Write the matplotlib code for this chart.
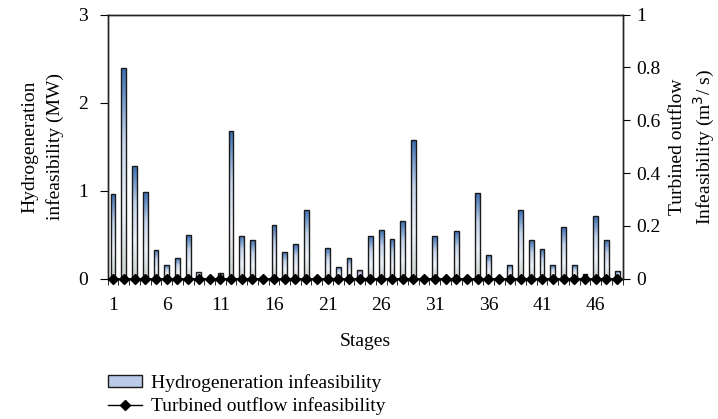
import numpy as np
import matplotlib
matplotlib.use("Agg")
import matplotlib.pyplot as plt
from matplotlib.colors import LinearSegmentedColormap
from matplotlib.patches import Rectangle
from matplotlib.lines import Line2D

stages = list(range(1, 49))
hydro = [0.96, 2.39, 1.28, 0.98, 0.33, 0.15, 0.23, 0.50, 0.08, 0.0,
         0.06, 1.68, 0.49, 0.44, 0.0, 0.61, 0.30, 0.39, 0.78, 0.0,
         0.345, 0.13, 0.23, 0.095, 0.48, 0.55, 0.45, 0.65, 1.57, 0.0,
         0.48, 0.0, 0.545, 0.0, 0.97, 0.27, 0.0, 0.156, 0.78, 0.44,
         0.34, 0.15, 0.59, 0.15, 0.057, 0.71, 0.44, 0.09]
turbined = [0.0] * 48
tick_labels = ["1", "6", "11", "16", "21", "26", "31", "36", "41", "46"]

plt.rcParams['font.family'] = ['Liberation Serif', 'DejaVu Serif']
plt.rcParams['font.size'] = 14

fig = plt.figure(figsize=(7.18, 4.19), dpi=100)
ax = fig.add_axes([0.150, 0.335, 0.717, 0.630])
ax2 = ax.twinx()

cmap = LinearSegmentedColormap.from_list("g", ["#c9d2cf", "#eef2f8", "#c5d4ea", "#3a6db2"])
grad = np.linspace(0, 1, 256).reshape(-1, 1)
width = 0.45
bars = ax.bar(stages, hydro, width=width, color="none", edgecolor="#1a1a1a", linewidth=1.0, zorder=3)
for b in bars:
    h = b.get_height()
    if h <= 0:
        continue
    x0 = b.get_x()
    im = ax.imshow(grad, extent=[x0, x0 + width, 0, h], origin="lower", aspect="auto",
                   cmap=cmap, zorder=2)
    im.set_clip_path(b)

ax.set_xlim(0.5, 48.5)
ax.set_ylim(0, 3)
ax.set_yticks([0, 1, 2, 3])
ax.set_xticks([int(t) for t in tick_labels])
ax.set_xticklabels(tick_labels)
ax.set_xticks(np.arange(0.5, 49, 1.0), minor=True)
ax.tick_params(axis='x', which='major', length=0, pad=13)
ax.tick_params(axis='x', which='minor', length=4, direction='out')
ax.tick_params(axis='y', length=6, direction='out', pad=8)

ax2.plot(stages, turbined, color="black", marker="D", markersize=5, linewidth=1.2, zorder=4, clip_on=False)
ax2.set_ylim(0, 1)
ax2.set_yticks([0, 0.2, 0.4, 0.6, 0.8, 1])
ax2.set_yticklabels(["0", "0.2", "0.4", "0.6", "0.8", "1"])
ax2.tick_params(axis='y', length=5, direction='out', pad=5)

for a in (ax, ax2):
    for s in a.spines.values():
        s.set_color("#222222")
        s.set_linewidth(1.0)

ax.set_ylabel("Hydrogeneration\ninfeasibility (MW)", labelpad=10, linespacing=1.6)
ax2.set_ylabel("Turbined outflow\nInfeasibility (m$^3$/ s)", rotation=90, labelpad=6, linespacing=1.3)
ax.set_xlabel("Stages", labelpad=14)

h1 = Rectangle((0, 0), 1, 1, facecolor="#b9cbe6", edgecolor="#1a1a1a", linewidth=1.0)
h2 = Line2D([], [], color="black", marker="D", markersize=5, linewidth=1.0)
fig.legend([h1, h2], ["Hydrogeneration infeasibility", "Turbined outflow infeasibility"],
           loc="upper left", bbox_to_anchor=(0.150, 0.108), frameon=False, borderpad=0,
           handlelength=1.75, handleheight=0.6, handletextpad=0.5, labelspacing=0.3, borderaxespad=0)

fig.savefig("out.png", dpi=100)
